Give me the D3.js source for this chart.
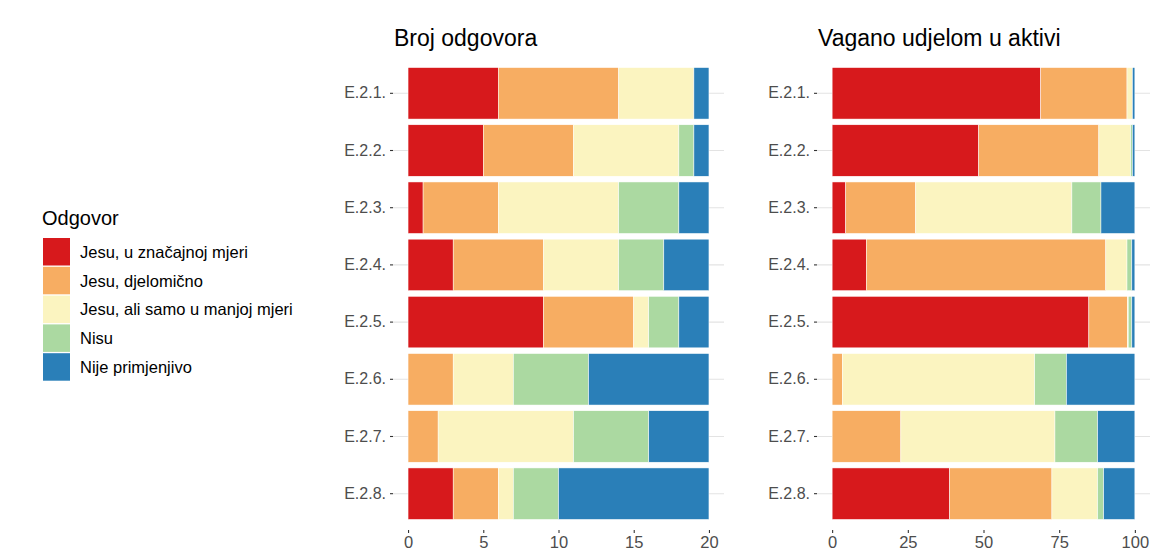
<!DOCTYPE html>
<html>
<head>
<meta charset="utf-8">
<script src="https://cdn.jsdelivr.net/npm/d3@7"></script>
<style>
  body { margin: 0; background: #fff; font-family: "Liberation Sans", Arial, sans-serif; }
</style>
</head>
<body>
<script>
// categories and answer options
var categories = ["E.2.1.", "E.2.2.", "E.2.3.", "E.2.4.", "E.2.5.", "E.2.6.", "E.2.7.", "E.2.8."];
var answers = ["Jesu, u značajnoj mjeri", "Jesu, djelomično", "Jesu, ali samo u manjoj mjeri", "Nisu", "Nije primjenjivo"];
var colors = ["#d7191c", "#f7ad62", "#fbf4c0", "#abd9a1", "#2a7fb8"];

// number of answers
var countU    = [6, 5, 1, 3, 9, 0, 0, 3];
var countDj   = [8, 6, 5, 6, 6, 3, 2, 3];
var countAli  = [5, 7, 8, 5, 1, 4, 9, 1];
var countNisu = [0, 1, 4, 3, 2, 5, 5, 3];
var countNije = [1, 1, 2, 3, 2, 8, 4, 10];

// weighted by share in assets (%)
var weightU    = [68.9, 48.4, 4.5, 11.3, 84.8, 0, 0, 38.8];
var weightDj   = [28.5, 39.7, 23.1, 79.1, 12.7, 3.4, 22.7, 33.8];
var weightAli  = [1.8, 10.5, 51.6, 7.0, 0.3, 63.5, 50.9, 15.1];
var weightNisu = [0, 0.6, 9.6, 1.6, 1.2, 10.5, 14.1, 2.0];
var weightNije = [0.8, 0.8, 11.2, 1.0, 1.0, 22.6, 12.3, 10.3];

var xTicksCount = [0, 5, 10, 15, 20];
var xTicksWeight = [0, 25, 50, 75, 100];

var width = 1154, height = 554;

var svg = d3.select("body").append("svg")
    .attr("width", width)
    .attr("height", height);

function buildRows(series) {
  return categories.map(function(c, i) {
    var row = {cat: c};
    answers.forEach(function(a, j) { row[a] = series[j][i]; });
    return row;
  });
}

var color = d3.scaleOrdinal().domain(answers).range(colors);

function panel(opts) {
  var g = svg.append("g");

  var x = d3.scaleLinear()
      .domain([-opts.max * 0.05, opts.max * 1.05])
      .range([opts.left, opts.right]);

  var y = d3.scaleBand()
      .domain(categories)
      .range([opts.top, opts.bottom])
      .paddingInner(0.1)
      .paddingOuter(0.15);

  // horizontal grid lines
  g.selectAll(".grid")
    .data(categories)
    .enter().append("line")
    .attr("x1", opts.left).attr("x2", opts.right)
    .attr("y1", function(d) { return y(d) + y.bandwidth() / 2; })
    .attr("y2", function(d) { return y(d) + y.bandwidth() / 2; })
    .style("stroke", "#e3e3e3")
    .style("stroke-width", 1.1);

  var stack = d3.stack().keys(answers);
  var layers = stack(buildRows(opts.series));

  g.selectAll(".layer")
    .data(layers)
    .enter().append("g")
    .attr("fill", function(d) { return color(d.key); })
    .selectAll("rect")
    .data(function(d) { return d; })
    .enter().append("rect")
    .filter(function(d) { return d[1] - d[0] > 0; })
    .attr("x", function(d) { return x(d[0]); })
    .attr("width", function(d) { return x(d[1]) - x(d[0]); })
    .attr("y", function(d) { return y(d.data.cat); })
    .attr("height", y.bandwidth())
    .style("stroke", "#fff")
    .style("stroke-width", 0.5);

  // y axis
  var yAxis = g.append("g")
    .attr("transform", "translate(" + opts.left + ",0)")
    .call(d3.axisLeft(y).tickSize(3).tickPadding(4));
  yAxis.select(".domain").remove();
  yAxis.selectAll("line").style("stroke", "#333").style("stroke-width", 1.1);
  yAxis.selectAll("text")
    .style("font-family", "Liberation Sans, Arial, sans-serif")
    .style("font-size", "16px")
    .style("fill", "#4d4d4d");

  // x axis
  var xAxis = g.append("g")
    .attr("transform", "translate(0," + (opts.bottom + 2) + ")")
    .call(d3.axisBottom(x).tickValues(opts.ticks).tickSize(3).tickPadding(3));
  xAxis.select(".domain").remove();
  xAxis.selectAll("line").style("stroke", "#333").style("stroke-width", 1.1);
  xAxis.selectAll("text")
    .style("font-family", "Liberation Sans, Arial, sans-serif")
    .style("font-size", "16.5px")
    .style("fill", "#4d4d4d");

  // title
  g.append("text")
    .attr("x", opts.left + 1)
    .attr("y", 46)
    .text(opts.title)
    .style("font-size", "23px")
    .style("fill", "#000");
}

panel({
  title: "Broj odgovora",
  series: [countU, countDj, countAli, countNisu, countNije],
  max: 20, ticks: xTicksCount,
  left: 393, right: 724, top: 59, bottom: 528
});

panel({
  title: "Vagano udjelom u aktivi",
  series: [weightU, weightDj, weightAli, weightNisu, weightNije],
  max: 100, ticks: xTicksWeight,
  left: 817, right: 1150, top: 59, bottom: 528
});

// legend
var legend = svg.append("g").attr("transform", "translate(43,0)");

legend.append("text")
  .attr("x", -1)
  .attr("y", 225)
  .text("Odgovor")
  .style("font-size", "20px")
  .style("fill", "#000");

var items = legend.selectAll(".item")
  .data(answers)
  .enter().append("g")
  .attr("transform", function(d, i) { return "translate(0," + (238 + i * 28.8) + ")"; });

items.append("rect")
  .attr("width", 27)
  .attr("height", 27.5)
  .attr("fill", function(d) { return color(d); });

items.append("text")
  .attr("x", 37)
  .attr("y", 14)
  .attr("dy", "0.35em")
  .text(function(d) { return d; })
  .style("font-size", "16.5px")
  .style("fill", "#000");
</script>
</body>
</html>
